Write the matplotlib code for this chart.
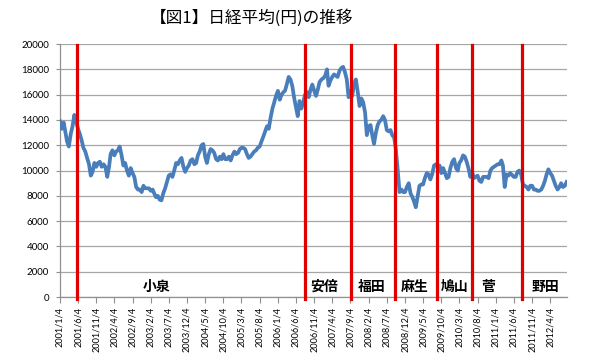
import pandas as pd
import matplotlib
matplotlib.use("Agg")
import matplotlib.pyplot as plt

plt.rcParams['font.family'] = ['Lato', 'DejaVu Sans']
JP = ['Noto Sans CJK JP', 'DejaVu Sans']

title = "【図1】日経平均(円)の推移"

# nikkei average, two readings per month (4th and 19th)
y2001 = [13900, 13300, 13800, 13000, 12300, 11900, 12900, 13500, 14400, 13900, 13300, 12900,
         12400, 11800, 11500, 11000, 10500, 9600, 9900, 10600, 10300, 10600, 10700, 10300]
y2002 = [10500, 10300, 9500, 10300, 11300, 11600, 11200, 11500, 11600, 11900, 11200, 10400,
         10600, 10000, 9600, 10200, 9800, 9500, 8700, 8500, 8500, 8300, 8800, 8600]
y2003 = [8600, 8600, 8400, 8500, 8200, 7900, 8000, 7700, 7650, 8200, 8600, 9100,
         9600, 9700, 9500, 10000, 10600, 10500, 10800, 11000, 10300, 9900, 10200, 10400]
y2004 = [10800, 10900, 10500, 10600, 11200, 11500, 12000, 12100, 11100, 10600, 11300, 11700,
         11600, 11400, 10900, 10800, 11100, 10900, 11300, 10900, 10900, 11100, 10800, 11200]
y2005 = [11500, 11300, 11400, 11700, 11800, 11800, 11700, 11300, 11000, 11100, 11300, 11500,
         11600, 11800, 11900, 12300, 12700, 13100, 13500, 13300, 14200, 14900, 15400, 15900]
y2006 = [16300, 15600, 16000, 16200, 16300, 16800, 17400, 17200, 16700, 15800, 15000, 14300,
         15500, 14900, 15400, 16000, 16200, 15800, 16400, 16800, 16300, 15900, 16400, 17000]
y2007 = [17200, 17300, 17500, 18000, 16700, 17100, 17400, 17600, 17500, 17400, 17900, 18100,
         18200, 17800, 17200, 15800, 16300, 15900, 16900, 17200, 16200, 15100, 15700, 15400]
y2008 = [14600, 12800, 13500, 13600, 12800, 12100, 13000, 13600, 13900, 14000, 14300, 14000,
         13200, 13100, 13200, 12800, 12600, 11600, 10000, 8300, 8500, 8300, 8300, 8700]
y2009 = [9000, 8200, 7900, 7500, 7100, 7900, 8800, 8900, 8900, 9400, 9800, 9700,
         9300, 9700, 10400, 10500, 10300, 10400, 9800, 10200, 9800, 9400, 9500, 10200]
y2010 = [10700, 10900, 10200, 10000, 10600, 10800, 11200, 11100, 10700, 10200, 9500, 9900,
         9400, 9500, 9600, 9200, 9100, 9500, 9500, 9500, 9400, 10000, 10200, 10300]
y2011 = [10400, 10500, 10500, 10800, 10400, 8700, 9700, 9600, 9800, 9650, 9500, 9500,
         9900, 10000, 9700, 8900, 8800, 8700, 8500, 8800, 8800, 8500, 8500, 8400]
y2012 = [8400, 8500, 8800, 9200, 9700, 10100, 9800, 9600, 9200, 8800, 8500, 8700,
         9000, 8700, 8800, 9100]

nikkei = y2001 + y2002 + y2003 + y2004 + y2005 + y2006 + y2007 + y2008 + y2009 + y2010 + y2011 + y2012

months = pd.date_range("2001-01-01", periods=len(nikkei) // 2, freq="MS")
dates = []
for m in months:
    dates.append(m + pd.Timedelta(days=3))
    dates.append(m + pd.Timedelta(days=18))

# change of prime minister (as drawn)
pm_change = ["2001/5/24", "2006/8/15", "2007/9/12", "2008/9/7", "2009/8/31", "2010/6/21", "2011/8/12"]
pm_names = ["小泉", "安倍", "福田", "麻生", "鳩山", "菅", "野田"]
pm_label_at = ["2003/3/25", "2007/1/30", "2008/2/28", "2009/2/22", "2010/1/22", "2010/11/4", "2012/2/22"]

xtick_labels = ["2001/1/4", "2001/6/4", "2001/11/4", "2002/4/4", "2002/9/4", "2003/2/4", "2003/7/4",
                "2003/12/4", "2004/5/4", "2004/10/4", "2005/3/4", "2005/8/4", "2006/1/4", "2006/6/4",
                "2006/11/4", "2007/4/4", "2007/9/4", "2008/2/4", "2008/7/4", "2008/12/4", "2009/5/4",
                "2009/10/4", "2010/3/4", "2010/8/4", "2011/1/4", "2011/6/4", "2011/11/4", "2012/4/4"]

fig = plt.figure(figsize=(6.0, 3.61), dpi=100)
ax = fig.add_axes([0.1, 0.177, 0.845, 0.701])

ax.plot(dates, nikkei, color="#4A7EBB", lw=2.7, solid_joinstyle="round", zorder=3)

for d in pm_change:
    ax.plot([pd.Timestamp(d)] * 2, [-150, 19900], color="#E00000", lw=2.3, zorder=4, clip_on=False)

for name, d in zip(pm_names, pm_label_at):
    ax.text(pd.Timestamp(d), 790, name, ha="center", va="center", fontsize=10,
            fontweight="bold", family=JP, zorder=5)

ax.set_ylim(0, 20000)
ax.set_yticks(range(0, 20001, 2000))
ax.set_xlim(pd.Timestamp("2001/1/4"), pd.Timestamp("2012/8/22"))
ax.set_xticks([pd.Timestamp(t) for t in xtick_labels])
ax.set_xticklabels(xtick_labels, rotation=90)

ax.grid(axis="y", color="#A6A6A6", lw=0.9)
ax.set_axisbelow(True)
for s in ["top", "right"]:
    ax.spines[s].set_visible(False)
for s in ["left", "bottom"]:
    ax.spines[s].set_color("#909090")
    ax.spines[s].set_linewidth(0.9)
ax.tick_params(axis="y", length=3, color="#909090", labelsize=7, pad=5)
ax.tick_params(axis="x", length=4, color="#909090", labelsize=6.6, pad=3)

fig.text(0.42, 0.95, title, ha="center", va="center", fontsize=12, family=JP)

fig.savefig("out.png", dpi=100)
